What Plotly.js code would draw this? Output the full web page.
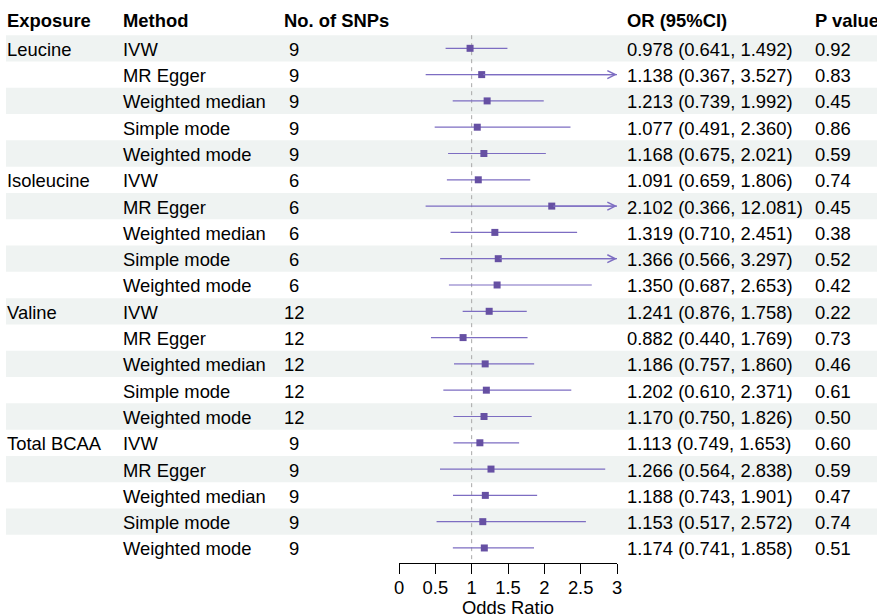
<!DOCTYPE html>
<html>
<head>
<meta charset="utf-8">
<script src="https://cdn.plot.ly/plotly-3.0.1.min.js"></script>
<style>html,body{margin:0;padding:0;background:#fff;}#chart{width:877px;height:616px;}</style>
</head>
<body>
<div id="chart"></div>
<script>
// ---- data ----
const exposures = ['Leucine', 'Isoleucine', 'Valine', 'Total BCAA'];
const methods = ['IVW', 'MR Egger', 'Weighted median', 'Simple mode', 'Weighted mode'];
const nSNPs = [9, 6, 12, 9];
const orVals = [0.978, 1.138, 1.213, 1.077, 1.168,
                1.091, 2.102, 1.319, 1.366, 1.350,
                1.241, 0.882, 1.186, 1.202, 1.170,
                1.113, 1.266, 1.188, 1.153, 1.174];
const loVals = [0.641, 0.367, 0.739, 0.491, 0.675,
                0.659, 0.366, 0.710, 0.566, 0.687,
                0.876, 0.440, 0.757, 0.610, 0.750,
                0.749, 0.564, 0.743, 0.517, 0.741];
const hiVals = [1.492, 3.527, 1.992, 2.360, 2.021,
                1.806, 12.081, 2.451, 3.297, 2.653,
                1.758, 1.769, 1.860, 2.371, 1.826,
                1.653, 2.838, 1.901, 2.572, 1.858];
const pVals = ['0.92', '0.83', '0.45', '0.86', '0.59',
               '0.74', '0.45', '0.38', '0.52', '0.42',
               '0.22', '0.73', '0.46', '0.61', '0.50',
               '0.60', '0.59', '0.47', '0.74', '0.51'];
const headers = ['Exposure', 'Method', 'No. of SNPs', 'OR (95%CI)', 'P value'];
const xTickVals = [0, 0.5, 1, 1.5, 2, 2.5, 3];
const xTickText = ['0', '0.5', '1', '1.5', '2', '2.5', '3'];
const xTitle = 'Odds Ratio';

// ---- layout constants ----
const W = 877, H = 616;
const FS = 18.4;
const FONT = 'Liberation Sans, Arial, sans-serif';
const XMAX = 3;
const colPx = [4.5, 121.3, 281.5, 624.7, 813];
const yTop = -1.837, yBottom = 19.56;
const headerY = -1.08;
const lineColor = '#7d6dc2';
const boxColor = '#6650a3';

const nRows = orVals.length;
const rows = orVals.map((_, i) => i);
const annotations = [];
const shapes = [];

function txt(px, y, text, bold) {
  annotations.push({
    xref: 'paper', yref: 'y', x: px / W, y: y, xanchor: 'left', yanchor: 'middle', yshift: -1,
    text: bold ? '<b>' + text + '</b>' : text, showarrow: false,
    font: {family: FONT, size: FS, color: '#000'}
  });
}

headers.forEach((h, k) => txt(colPx[k], headerY, h, true));

for (let i = 0; i < nRows; i++) {
  const e = Math.floor(i / methods.length);
  const m = i % methods.length;
  if (m === 0) txt(colPx[0], i, exposures[e]);
  txt(colPx[1], i, methods[m]);
  const n = String(nSNPs[e]);
  txt(colPx[2], i, n.length < 2 ? '\u00a0' + n : n);
  txt(colPx[3], i, orVals[i].toFixed(3) + ' (' + loVals[i].toFixed(3) + ', ' + hiVals[i].toFixed(3) + ')');
  txt(colPx[4], i, pVals[i]);
  if (i % 2 === 0) {
    shapes.push({type: 'rect', xref: 'paper', yref: 'y', x0: 6 / W, x1: 1, y0: i - 0.5, y1: i + 0.5,
      fillcolor: '#eff3f2', line: {width: 0}, layer: 'below'});
  }
  if (hiVals[i] > XMAX) {
    annotations.push({xref: 'x', yref: 'y', axref: 'x', ayref: 'y', x: XMAX, y: i, ax: orVals[i], ay: i,
      text: '', showarrow: true, arrowhead: 5, arrowsize: 1.3, arrowwidth: 1.2, arrowcolor: lineColor, standoff: 0});
  }
}

// x-axis title placed under the tick labels
annotations.push({xref: 'x', yref: 'paper', x: XMAX / 2, y: (H - 607.5) / H, xanchor: 'center', yanchor: 'middle',
  text: xTitle, showarrow: false, font: {family: FONT, size: FS, color: '#000'}});

shapes.push({type: 'line', xref: 'x', yref: 'y', x0: 1, x1: 1, y0: -0.5, y1: yBottom,
  line: {color: '#a8a8a8', width: 1, dash: '4px,4px'}, layer: 'below'});

const trace = {
  type: 'scatter', mode: 'markers', x: orVals, y: rows,
  marker: {symbol: 'square', size: 7, color: boxColor},
  error_x: {type: 'data', symmetric: false,
    array: orVals.map((v, i) => Math.min(hiVals[i], XMAX) - v),
    arrayminus: orVals.map((v, i) => v - loVals[i]),
    width: 0, thickness: 1.2, color: lineColor},
  cliponaxis: false, hoverinfo: 'skip'
};

const layout = {
  width: W, height: H,
  margin: {l: 0, r: 0, t: 0, b: 0},
  paper_bgcolor: '#fff', plot_bgcolor: 'rgba(0,0,0,0)',
  showlegend: false,
  font: {family: FONT, size: FS, color: '#000'},
  xaxis: {domain: [399 / W, 617 / W], range: [0, XMAX], tickvals: xTickVals, ticktext: xTickText,
    showgrid: false, zeroline: false, showline: true, linecolor: '#000', linewidth: 1,
    ticks: 'outside', ticklen: 10, tickwidth: 1, tickcolor: '#000', ticklabelstandoff: -2,
    tickfont: {family: FONT, size: FS, color: '#000'},
    automargin: false, fixedrange: true},
  yaxis: {domain: [(H - 562.7) / H, 1], range: [yBottom, yTop], visible: false, fixedrange: true},
  shapes: shapes,
  annotations: annotations
};

Plotly.newPlot('chart', [trace], layout, {staticPlot: true, displayModeBar: false});
</script>
</body>
</html>
